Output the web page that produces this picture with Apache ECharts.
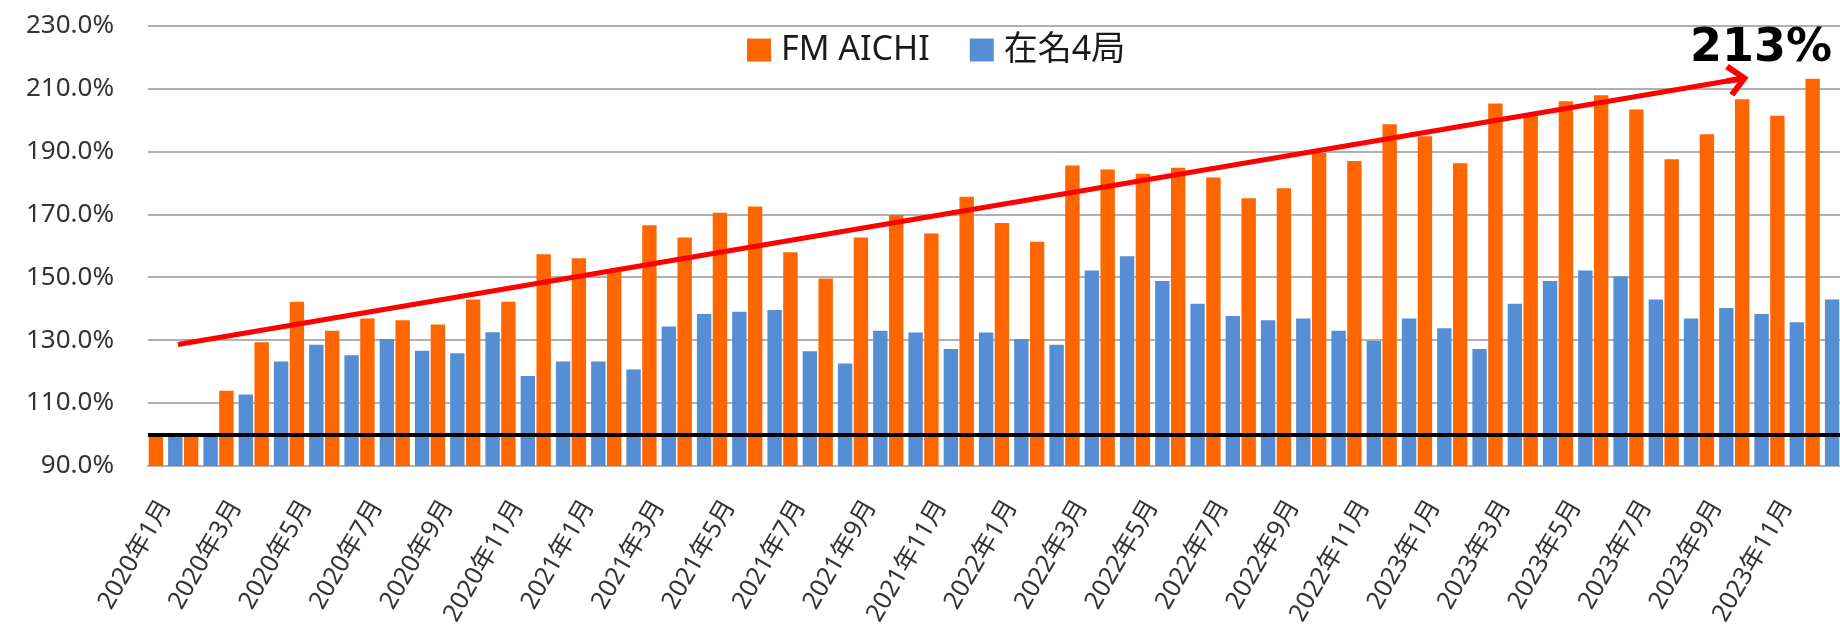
<!DOCTYPE html>
<html>
<head>
<meta charset="utf-8">
<script src="https://cdn.jsdelivr.net/npm/echarts@6/dist/echarts.min.js"></script>
<style>
html,body{margin:0;padding:0;background:#fff;}
#chart{width:1840px;height:627px;}
</style>
</head>
<body>
<div id="chart"></div>
<script>
const categories = [
  '2020年1月','2020年2月','2020年3月','2020年4月','2020年5月','2020年6月','2020年7月','2020年8月','2020年9月','2020年10月','2020年11月','2020年12月',
  '2021年1月','2021年2月','2021年3月','2021年4月','2021年5月','2021年6月','2021年7月','2021年8月','2021年9月','2021年10月','2021年11月','2021年12月',
  '2022年1月','2022年2月','2022年3月','2022年4月','2022年5月','2022年6月','2022年7月','2022年8月','2022年9月','2022年10月','2022年11月','2022年12月',
  '2023年1月','2023年2月','2023年3月','2023年4月','2023年5月','2023年6月','2023年7月','2023年8月','2023年9月','2023年10月','2023年11月','2023年12月'
];
const fmAichi = [
  100,100,113.9,129.3,142.2,133,136.9,136.3,135,142.9,142.2,157.3,
  156,151.8,166.5,162.6,170.5,172.5,157.9,149.6,162.6,169.8,163.9,175.6,
  167.2,161.3,185.5,184.2,182.9,184.8,181.7,175.1,178.3,189.5,186.9,198.6,
  194.8,186.2,205.2,201.3,205.9,207.8,203.3,187.5,195.4,206.6,201.3,213.1
];
const zaimei4 = [
  100,100,112.7,123.2,128.5,125.2,130.4,126.6,125.8,132.5,118.6,123.2,
  123.2,120.7,134.3,138.3,139,139.6,126.5,122.6,133,132.4,127.2,132.4,
  130.4,128.5,152.1,156.7,148.8,141.6,137.7,136.3,136.9,133,129.7,136.9,
  133.8,127.2,141.6,148.8,152.1,150.2,142.9,136.9,140.2,138.3,135.7,142.9
];
const yTicks = [90,110,130,150,170,190,210,230];
const baseline = 100;
// trend arrow, in (category position, value) units
const arrowStart = [0.85, 128.6];
const arrowEnd = [45.1, 212.9];
const calloutText = '213%';
const calloutPos = [45.76, 222.4];

const fontLatin = "'Noto Sans', 'Noto Sans CJK JP', sans-serif";
const chevron = 'path://M5,0 L10,5.5 L8.7,6.9 L5.9,3.7 L5.9,7 L4.1,7 L4.1,3.7 L1.3,6.9 L0,5.5 Z';

const chart = echarts.init(document.getElementById('chart'), null, {renderer:'canvas'});
chart.setOption({
  animation: false,
  backgroundColor: '#ffffff',
  grid: {left: 148, right: 0, top: 25.5, bottom: 161, containLabel: false, outerBoundsMode: 'none'},
  legend: {
    data: ['FM AICHI', '在名4局'],
    left: 742, top: 28,
    icon: 'rect', itemWidth: 24, itemHeight: 23, itemGap: 40,
    textStyle: {fontSize: 34, color: '#1a1a1a', fontFamily: fontLatin, padding: [0,0,0,5]}
  },
  xAxis: [
    {
      type: 'category', data: categories,
      axisLine: {show: true, lineStyle: {color: '#b0b0b0', width: 2}},
      axisTick: {show: false},
      axisLabel: {interval: 1, rotate: 60, fontSize: 25, color: '#333', margin: 36, fontFamily: fontLatin}
    },
    {type: 'value', min: 0, max: 48, show: false}
  ],
  yAxis: {
    type: 'value', min: 90, max: 230,
    axisLine: {show: false},
    axisTick: {show: false, customValues: yTicks},
    splitLine: {show: true, lineStyle: {color: '#b0b0b0', width: 2}},
    axisLabel: {customValues: yTicks, fontSize: 26, color: '#333', margin: 34, fontFamily: fontLatin,
      formatter: v => v.toFixed(1) + '%'}
  },
  series: [
    {
      name: 'FM AICHI', type: 'bar', data: fmAichi, barWidth: 14.4, barGap: '35%',
      itemStyle: {color: '#ff6600'},
      markLine: {
        silent: true, symbol: ['none','none'], label: {show: false},
        lineStyle: {color: '#000', width: 4, type: 'solid'},
        data: [{yAxis: baseline}]
      }
    },
    {
      name: '在名4局', type: 'bar', data: zaimei4, barWidth: 14.4, barGap: '35%',
      itemStyle: {color: '#558ed5'}
    },
    {
      name: 'trend', type: 'line', xAxisIndex: 1, data: [arrowStart, arrowEnd],
      symbol: 'none', lineStyle: {opacity: 0}, silent: true,
      markLine: {
        silent: true, symbol: ['none', chevron], symbolSize: [33, 22],
        label: {show: false},
        lineStyle: {color: '#ff0000', width: 5, type: 'solid', opacity: 1},
        data: [[{coord: arrowStart}, {coord: arrowEnd}]]
      },
      markPoint: {
        silent: true, symbol: 'circle', symbolSize: 0,
        label: {show: true, position: 'inside', formatter: calloutText, fontSize: 46, fontWeight: 'bold',
          color: '#000', fontFamily: "'DejaVu Sans', sans-serif"},
        data: [{coord: calloutPos}]
      }
    }
  ]
});
</script>
</body>
</html>
